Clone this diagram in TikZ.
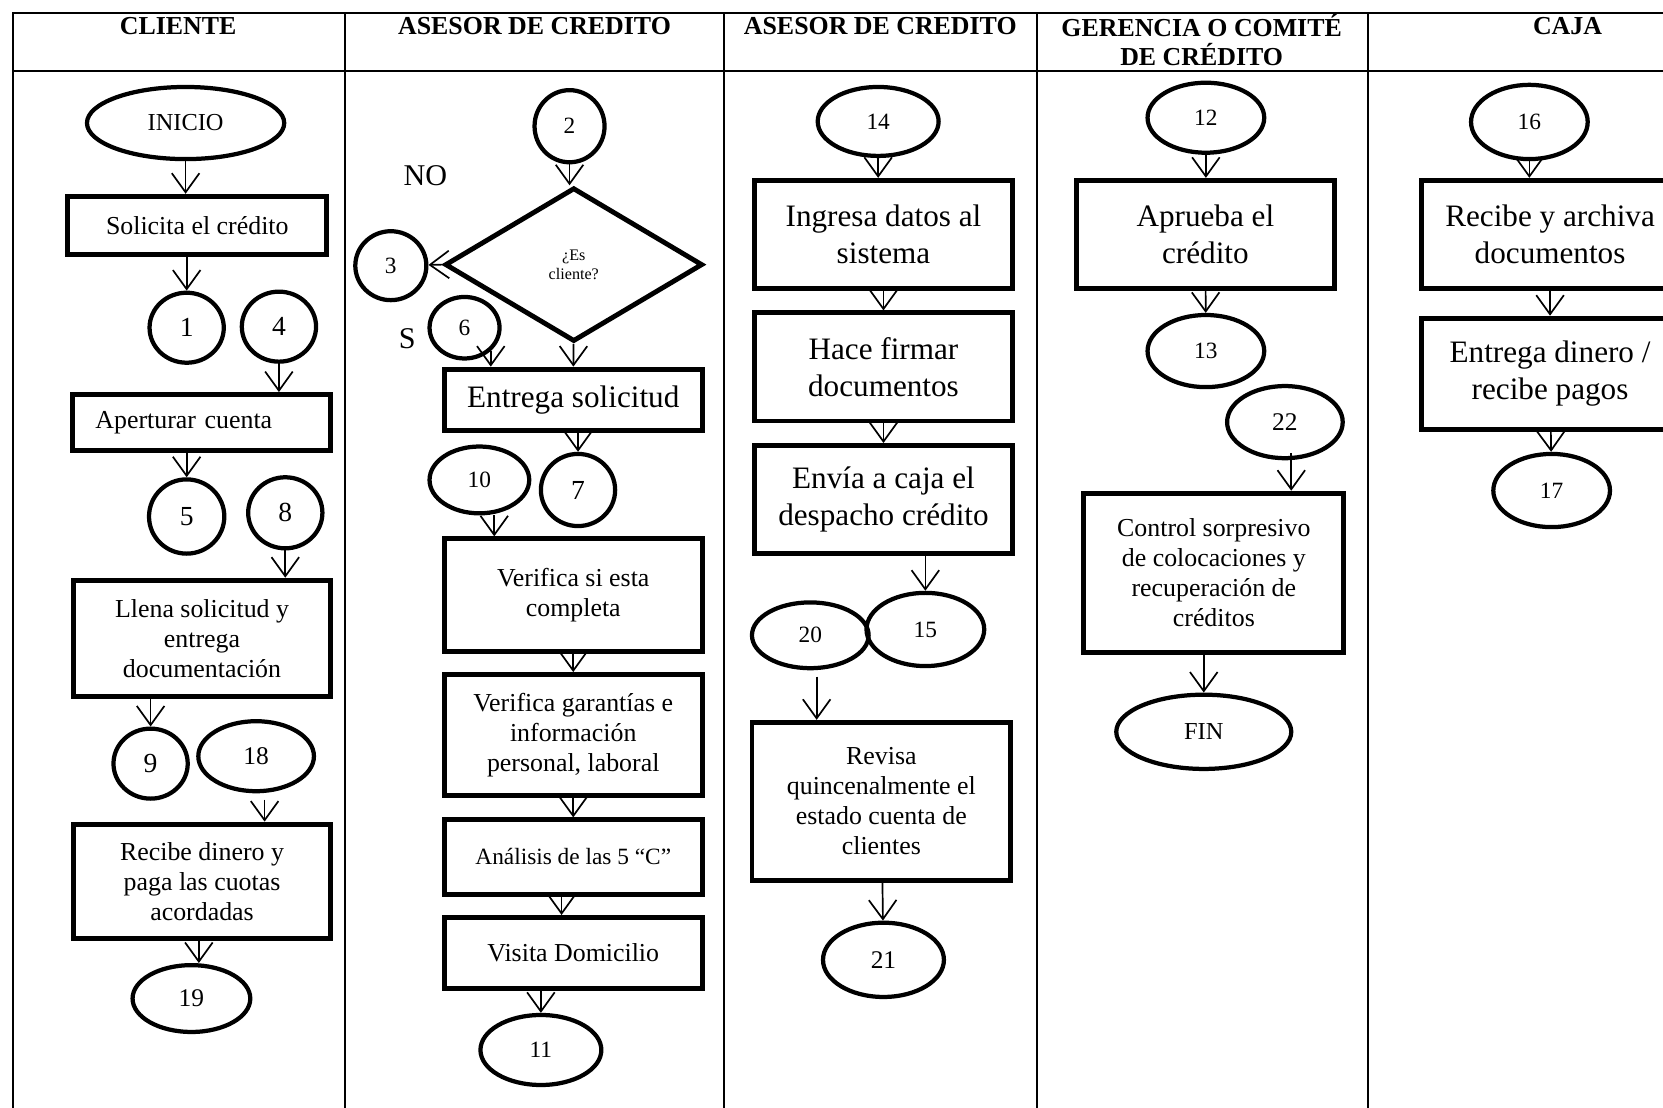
\documentclass[tikz,border=0pt]{standalone}
\usepackage{fontspec}
\setmainfont{Liberation Serif}
\usetikzlibrary{shapes.geometric,arrows.meta}

\begin{document}
\begin{tikzpicture}[x=0.5pt, y=-0.5pt, >={Straight Barb[length=9pt,width=13pt]},
  oval/.style 2 args={draw, ellipse, line width=2pt, inner sep=0pt, minimum width=#1, minimum height=#2, font=\fontsize{11}{13}\selectfont},
  proc/.style 2 args={draw, rectangle, line width=2.3pt, inner sep=2pt, minimum width=#1, minimum height=#2, align=center, font=\fontsize{12.2}{14.2}\selectfont},
  dec/.style={draw, diamond, line width=2.3pt, inner sep=0pt, minimum width=121.5pt, minimum height=72.5pt, align=center, font=\fontsize{7.6}{9}\selectfont},
  big/.style={font=\fontsize{14.7}{17.5}\selectfont},
  num/.style={font=\fontsize{12}{14}\selectfont},
  numbig/.style={font=\fontsize{13}{15}\selectfont},
  lane/.style={font=\bfseries\fontsize{12.2}{13.8}\selectfont, align=center},
  flow/.style={->, line width=0.8pt},
  tabline/.style={line width=1pt}]
\clip (0,0) rectangle (1568,1044);

% tabla
\draw[tabline] (12,1060) -- (12,12) -- (1580,12);
\draw[tabline] (12,67) -- (1580,67);
\foreach \x in {325,683,978,1290}
  \draw[tabline] (\x,12) -- (\x,1060);
\node[lane] (h1) at (168,25) {CLIENTE};
\node[lane] (h2) at (504,25) {ASESOR DE CREDITO};
\node[lane] (h3) at (830,25) {ASESOR DE CREDITO};
\node[lane] (h4) at (1133,38) {GERENCIA O COMITÉ\\DE CRÉDITO};
\node[lane] (h5) at (1478,25) {CAJA};

% cliente
\node[oval={93pt}{34pt}, font=\fontsize{11.5}{13}\selectfont] (ini) at (175,116) {INICIO};
\node[proc={122pt}{27.5pt}] (b1) at (186,212.5) {Solicita el crédito};
\node[oval={35pt}{33pt}, numbig] (1) at (176,309) {1};
\node[oval={35pt}{33pt}, numbig] (4) at (263,308) {4};
\node[proc={122pt}{26.5pt}, align=left, text width=100pt, inner xsep=11pt] (b2) at (190,398.5) {Aperturar cuenta};
\node[oval={35.5pt}{35pt}, numbig] (5) at (176,487) {5};
\node[oval={35pt}{33.5pt}, numbig] (8) at (269,483.5) {8};
\node[proc={121.5pt}{55pt}] (b3) at (190.5,602) {Llena solicitud y\\entrega\\documentación};
\node[oval={35pt}{33pt}, numbig] (9) at (142,720) {9};
\node[oval={54.5pt}{33pt}, num] (18) at (241.5,713) {18};
\node[proc={121.5pt}{54pt}] (b4) at (190.5,831) {Recibe dinero y\\paga las cuotas\\acordadas};
\node[oval={55.5pt}{31.5pt}, num] (19) at (180.5,941.5) {19};

% asesor de credito
\node[oval={33pt}{34pt}] (2) at (537,119) {2};
\node[dec] (d1) at (541,249.5) {¿Es\\cliente?};
\node[oval={33.5pt}{32.5pt}] (3) at (368.5,250.5) {3};
\node[font=\fontsize{14.2}{16}\selectfont] (no) at (401,166) {NO};
\node[font=\fontsize{14.2}{16}\selectfont] (s) at (384,319) {S};
\node[oval={33pt}{29pt}] (6) at (438,309) {6};
\node[proc={121.5pt}{29pt}, big] (b5) at (540.5,377) {Entrega solicitud};
\node[oval={47pt}{31.5pt}] (10) at (452,452.5) {10};
\node[oval={35pt}{34pt}, numbig] (7) at (545,462) {7};
\node[proc={121.5pt}{53pt}] (b6) at (540.5,561) {Verifica si esta\\completa};
\node[proc={121.5pt}{57pt}] (b7) at (540.5,693) {Verifica garantías e\\información\\personal, laboral};
\node[proc={121.5pt}{35pt}, font=\fontsize{11}{13}\selectfont] (b8) at (540.5,808) {Análisis de las 5 “C”};
\node[proc={121.5pt}{33.5pt}] (b9) at (540.5,898.5) {Visita Domicilio};
\node[oval={57pt}{33pt}] (11) at (510,990) {11};

% asesor de credito (2)
\node[oval={57pt}{32.5pt}] (14) at (828,114.5) {14};
\node[proc={122pt}{51pt}, big] (b10) at (833,221) {Ingresa datos al\\sistema};
\node[proc={122pt}{51pt}, big] (b11) at (833,346) {Hace firmar\\documentos};
\node[proc={122pt}{51pt}, big] (b12) at (833,471) {Envía a caja el\\despacho crédito};
\node[oval={55pt}{31pt}] (20) at (764,599) {20};
\node[oval={55.5pt}{34.5pt}] (15) at (872.5,593.5) {15};
\node[proc={122pt}{74.5pt}] (b13) at (831,755.5) {Revisa\\quincenalmente el\\estado cuenta de\\clientes};
\node[oval={57pt}{35pt}, num] (21) at (833,905) {21};

% gerencia
\node[oval={55pt}{33pt}] (12) at (1137,111) {12};
\node[proc={121.5pt}{51pt}, big] (b14) at (1136.5,221) {Aprueba el\\crédito};
\node[oval={55pt}{34pt}] (13) at (1137,331) {13};
\node[oval={54.5pt}{34pt}, num] (22) at (1211.5,398) {22};
\node[proc={122.5pt}{75pt}] (b15) at (1144.5,540) {Control sorpresivo\\de colocaciones y\\recuperación de\\créditos};
\node[oval={82.5pt}{35pt}, font=\fontsize{11.5}{13}\selectfont] (fin) at (1135,690) {FIN};

% caja
\node[oval={55pt}{35pt}] (16) at (1442,115) {16};
\node[proc={121.5pt}{51pt}, big] (b16) at (1461.5,221) {Recibe y archiva\\documentos};
\node[proc={121.5pt}{52.5pt}, big] (b17) at (1461.5,352.5) {Entrega dinero /\\recibe pagos};
\node[oval={55pt}{34.5pt}] (17) at (1463,462.5) {17};

% flechas
\draw[flow] (ini) -- (ini |- b1.north);
\draw[flow] (b1.south -| 1) -- (1);
\draw[flow] (4) -- (4 |- b2.north);
\draw[flow] (b2.south -| 5) -- (5);
\draw[flow] (8) -- (8 |- b3.north);
\draw[flow] (b3.south -| 9) -- (9);
\coordinate (c18) at ([xshift=4pt,yshift=-3pt]18.south);
\draw[flow] (c18) -- (c18 |- b4.north);
\coordinate (c19) at ([xshift=-1.5pt]b4.south);
\draw[flow] (c19) -- (c19 |- 19.north);

\draw[flow] (2) -- (2 |- d1.north);
\draw[flow] (d1.west) -- (3);
\draw[flow] (6.south east) -- (6.south east |- b5.north);
\draw[flow] (d1) -- (b5);
\draw[flow] (b5.south -| 7) -- (7);
\coordinate (c10) at ([xshift=7pt]10.south);
\draw[flow] (c10) -- (c10 |- b6.north);
\draw[flow] (b6) -- (b7);
\draw[flow] (b7) -- (b8);
\coordinate (c8) at ([xshift=-5.5pt]b8.south);
\draw[flow] (c8) -- (c8 |- b9.north);
\draw[flow] (b9.south -| 11) -- (11);

\draw[flow] (14) -- (14 |- b10.north);
\draw[flow] (b10) -- (b11);
\draw[flow] (b11) -- (b12);
\draw[flow] (b12.south -| 15) -- (15);
\coordinate (c20) at ([xshift=3pt,yshift=-3pt]20.south);
\draw[flow] (c20) -- (c20 |- b13.north);
\draw[flow] (b13) -- (21);

\draw[flow] (12) -- (12 |- b14.north);
\draw[flow] (b14) -- (13);
\coordinate (c22) at ([xshift=3pt,yshift=3.5pt]22.south);
\draw[flow] (c22) -- (c22 |- b15.north);
\draw[flow] (b15.south -| fin) -- (fin);

\draw[flow] (16) -- (16 |- b16.north);
\draw[flow] (b16) -- (b17);
\draw[flow] (b17) -- (17);
\end{tikzpicture}
\end{document}
